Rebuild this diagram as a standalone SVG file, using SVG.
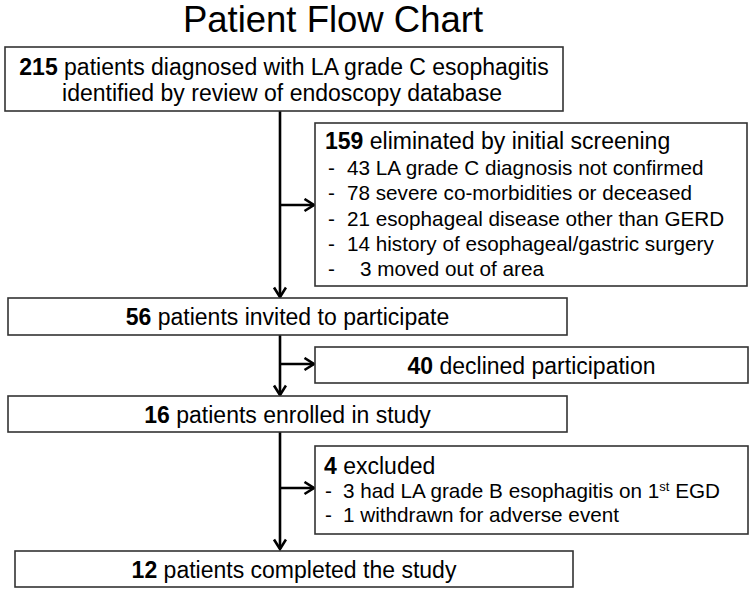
<svg xmlns="http://www.w3.org/2000/svg" width="753" height="593" viewBox="0 0 753 593">
<style>
text{font-family:"Liberation Sans",Arial,sans-serif;fill:#000}
.box{fill:#fff;stroke:#333;stroke-width:1.6}
.main{font-size:23px}
.mid{text-anchor:middle}
.item{font-size:20.7px}
.sup{font-size:13px}
b,.b{font-weight:bold}
.conn{stroke:#000;stroke-width:2.6;fill:none}
</style>
<defs>
<marker id="arr" markerUnits="userSpaceOnUse" markerWidth="14" markerHeight="16" refX="11" refY="7" orient="auto">
<path d="M1.5,1 L11,7 L1.5,13" fill="none" stroke="#000" stroke-width="2.6"/>
</marker>
</defs>
<text x="333" y="32" font-size="36.5" class="mid">Patient Flow Chart</text>
<g id="connectors">
<line class="conn" x1="280" y1="111" x2="280" y2="297" marker-end="url(#arr)"/>
<line class="conn" x1="280" y1="205" x2="314" y2="205" marker-end="url(#arr)"/>
<line class="conn" x1="280" y1="335" x2="280" y2="395" marker-end="url(#arr)"/>
<line class="conn" x1="280" y1="364" x2="314" y2="364" marker-end="url(#arr)"/>
<line class="conn" x1="280" y1="432" x2="280" y2="549" marker-end="url(#arr)"/>
<line class="conn" x1="280" y1="488" x2="314" y2="488" marker-end="url(#arr)"/>
</g>
<g id="n215">
<rect class="box" x="5" y="47" width="558" height="64"/>
<text class="main mid" x="284" y="74.5"><tspan class="b">215</tspan> patients diagnosed with LA grade C esophagitis</text>
<text class="main mid" x="282" y="101">identified by review of endoscopy database</text>
</g>
<g id="n159">
<rect class="box" x="315" y="123" width="432" height="163"/>
<text class="main" x="325" y="149"><tspan class="b">159</tspan> eliminated by initial screening</text>
<text class="item" y="174.5"><tspan x="328">-</tspan><tspan x="347">43 LA grade C diagnosis not confirmed</tspan></text>
<text class="item" y="200"><tspan x="328">-</tspan><tspan x="347">78 severe co-morbidities or deceased</tspan></text>
<text class="item" y="225.5"><tspan x="328">-</tspan><tspan x="347">21 esophageal disease other than GERD</tspan></text>
<text class="item" y="251"><tspan x="328">-</tspan><tspan x="347">14 history of esophageal/gastric surgery</tspan></text>
<text class="item" y="276"><tspan x="328">-</tspan><tspan x="360">3 moved out of area</tspan></text>
</g>
<g id="n56">
<rect class="box" x="8" y="298" width="559" height="37"/>
<text class="main mid" x="287.5" y="325"><tspan class="b">56</tspan> patients invited to participate</text>
</g>
<g id="n40">
<rect class="box" x="315" y="347" width="433" height="36"/>
<text class="main mid" x="531.5" y="374"><tspan class="b">40</tspan> declined participation</text>
</g>
<g id="n16">
<rect class="box" x="8" y="396" width="559" height="36"/>
<text class="main mid" x="287.5" y="422.5"><tspan class="b">16</tspan> patients enrolled in study</text>
</g>
<g id="n4">
<rect class="box" x="315" y="446" width="433" height="88"/>
<text class="main" x="324" y="474"><tspan class="b">4</tspan> excluded</text>
<text class="item" y="497.5"><tspan x="325">-</tspan><tspan x="343">3 had LA grade B esophagitis on 1</tspan><tspan class="sup" dy="-7">st</tspan><tspan dy="7"> EGD</tspan></text>
<text class="item" y="522"><tspan x="325">-</tspan><tspan x="343">1 withdrawn for adverse event</tspan></text>
</g>
<g id="n12">
<rect class="box" x="15" y="551" width="558" height="36"/>
<text class="main mid" x="294" y="578"><tspan class="b">12</tspan> patients completed the study</text>
</g>
</svg>
